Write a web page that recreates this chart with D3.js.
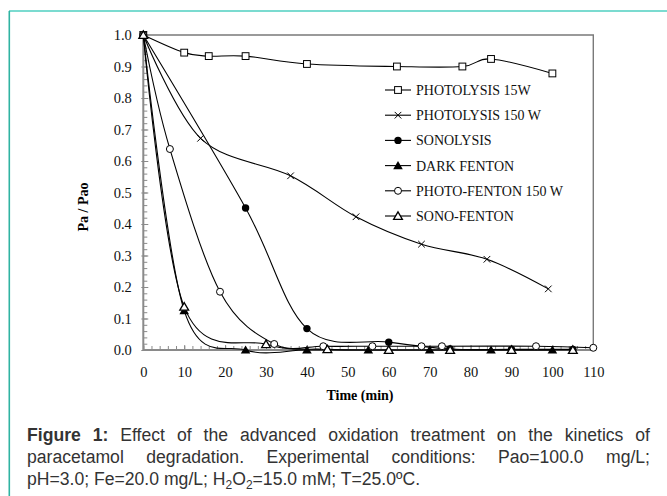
<!DOCTYPE html>
<html><head><meta charset="utf-8">
<script src="https://cdn.jsdelivr.net/npm/d3@7/dist/d3.min.js"></script>
<style>
html,body{margin:0;padding:0;background:#fff;}
#wrap{position:relative;width:667px;height:496px;overflow:hidden;}
svg{position:absolute;left:0;top:0;}
.cap{position:absolute;left:27px;width:623px;font-family:"Liberation Sans",Arial,sans-serif;font-size:17.6px;color:#333;line-height:22px;white-space:nowrap;}
.just{text-align:justify;text-align-last:justify;}
.cap sub{font-size:12px;vertical-align:-4px;line-height:0;}
</style></head>
<body><div id="wrap"><svg id="chart" width="667" height="496"></svg>
<div class="cap just" style="top:424px;"><b>Figure 1:</b> Effect of the advanced oxidation treatment on the kinetics of</div>
<div class="cap just" style="top:446px;">paracetamol degradation. Experimental conditions: Pao=100.0 mg/L;</div>
<div class="cap" style="top:468px;">pH=3.0; Fe=20.0 mg/L; H<sub>2</sub>O<sub>2</sub>=15.0 mM; T=25.0ºC.</div>
</div>
<script>
// ---- data ----
const seriesNames = ["PHOTOLYSIS 15W","PHOTOLYSIS 150 W","SONOLYSIS","DARK FENTON","PHOTO-FENTON 150 W","SONO-FENTON"];
const photolysis15T = [0,10,16,25,40,62,78,85,100];
const photolysis15V = [1.0,0.944,0.933,0.933,0.908,0.900,0.900,0.924,0.878];
const photolysis150T = [0,14,36,52,68,84,99];
const photolysis150V = [1.0,0.672,0.553,0.423,0.336,0.288,0.194];
const sonolysisT = [0,25,40,60,75,90,105];
const sonolysisV = [1.0,0.451,0.068,0.025,0.003,0.002,0.002];
const darkFentonT = [0,10,25,40,55,70,85,100];
const darkFentonV = [1.0,0.125,0,0,0,0,0,0];
const photoFentonT = [0,6.5,18.75,32,44,56,68,73,96,110];
const photoFentonV = [1.0,0.638,0.185,0.019,0.012,0.012,0.012,0.012,0.012,0.007];
const sonoFentonT = [0,10,30,45,60,75,90,105];
const sonoFentonV = [1.0,0.137,0.018,0.002,0,0,0,0];
const xTicks = [0,10,20,30,40,50,60,70,80,90,100,110];
const yTicks = [0,0.1,0.2,0.3,0.4,0.5,0.6,0.7,0.8,0.9,1.0];
const markerTypes = ["square","cross","dot","tri","circle","otri"];

const seriesT = [photolysis15T,photolysis150T,sonolysisT,darkFentonT,photoFentonT,sonoFentonT];
const seriesV = [photolysis15V,photolysis150V,sonolysisV,darkFentonV,photoFentonV,sonoFentonV];

const svg = d3.select("#chart");
const serif = '"Liberation Serif","Times New Roman",serif';
const L=143.3, R=593.3, T=35, B=350;
const x = d3.scaleLinear().domain([0,110]).range([L,R]);
const y = d3.scaleLinear().domain([0,1]).range([B,T]);

// frame
svg.append("line").attr("x1",9).attr("x2",667).attr("y1",11).attr("y2",11).attr("stroke","#4fcfc0").attr("stroke-width",1.6);
svg.append("line").attr("x1",9.3).attr("x2",9.3).attr("y1",11).attr("y2",496).attr("stroke","#2fb3a2").attr("stroke-width",1.6);

// plot box top/right
svg.append("path").attr("d",`M${L},${T}H${R}V${B}`).attr("fill","none").attr("stroke","#7a7a7a").attr("stroke-width",1.4);

const grey="#8a8a8a";
function styleAxis(g){ g.select(".domain").remove(); g.selectAll(".tick line").attr("stroke",grey).attr("stroke-width",1); }

// minor ticks
svg.append("g").attr("transform",`translate(0,${B})`)
  .call(d3.axisBottom(x).tickValues(d3.range(0,111,2)).tickSizeInner(-4).tickSizeOuter(0).tickFormat(""))
  .call(styleAxis);
svg.append("g").attr("transform",`translate(${L},0)`)
  .call(d3.axisLeft(y).tickValues(d3.range(0,1.001,0.02)).tickSizeInner(-4).tickSizeOuter(0).tickFormat(""))
  .call(styleAxis);
// major ticks + labels
const xa = svg.append("g").attr("transform",`translate(0,${B})`)
  .call(d3.axisBottom(x).tickValues(xTicks).tickSizeInner(-5).tickSizeOuter(0).tickPadding(17).tickFormat(d3.format("d")))
  .call(styleAxis);
const ya = svg.append("g").attr("transform",`translate(${L},0)`)
  .call(d3.axisLeft(y).tickValues(yTicks).tickSizeInner(-5).tickSizeOuter(0).tickPadding(11.5).tickFormat(d3.format(".1f")))
  .call(styleAxis);
svg.append("g").attr("transform",`translate(${L},0)`)
  .call(d3.axisLeft(y).tickValues(yTicks).tickSizeInner(2).tickSizeOuter(0).tickFormat(""))
  .call(styleAxis);
[xa,ya].forEach(g=>g.selectAll("text").attr("font-family",serif).attr("font-size",14.5).attr("fill","#111"));

// axis lines
svg.append("path").attr("d",`M${L},${T}V${B}H${R}`).attr("fill","none").attr("stroke",grey).attr("stroke-width",2);

// titles
svg.append("text").attr("x",360).attr("y",400).attr("text-anchor","middle").attr("font-family",serif)
  .attr("font-size",14).attr("font-weight","bold").text("Time (min)");
svg.append("text").attr("transform","translate(88,207) rotate(-90)").attr("text-anchor","middle").attr("font-family",serif)
  .attr("font-size",14).attr("font-weight","bold").text("Pa / Pao");

// lines
const line = d3.line().curve(d3.curveCardinal.tension(0)).x(d=>x(d[0])).y(d=>y(d[1]));
const plot = svg.append("g");
seriesT.forEach((ts,i)=>{
  const pts = ts.map((t,j)=>[t,seriesV[i][j]]);
  plot.append("path").attr("d",line(pts)).attr("fill","none").attr("stroke","#000").attr("stroke-width",1.1);
});

function marker(g,type,cx,cy){
  switch(type){
    case "square": g.append("rect").attr("x",cx-3.4).attr("y",cy-3.4).attr("width",6.8).attr("height",6.8).attr("fill","#fff").attr("stroke","#000").attr("stroke-width",1); break;
    case "cross": g.append("path").attr("d",`M${cx-3.3},${cy-3.3}L${cx+3.3},${cy+3.3}M${cx-3.3},${cy+3.3}L${cx+3.3},${cy-3.3}`).attr("stroke","#000").attr("stroke-width",1); break;
    case "dot": g.append("circle").attr("cx",cx).attr("cy",cy).attr("r",3.7).attr("fill","#000"); break;
    case "circle": g.append("circle").attr("cx",cx).attr("cy",cy).attr("r",3.5).attr("fill","#fff").attr("stroke","#000").attr("stroke-width",1); break;
    case "tri": g.append("path").attr("d",`M${cx},${cy-4.6}L${cx+4.8},${cy+3.6}L${cx-4.8},${cy+3.6}Z`).attr("fill","#000"); break;
    case "otri": g.append("path").attr("d",`M${cx},${cy-4.2}L${cx+4.4},${cy+3.3}L${cx-4.4},${cy+3.3}Z`).attr("fill","#fff").attr("stroke","#000").attr("stroke-width",1.3); break;
  }
}
seriesT.forEach((ts,i)=>{
  const g = plot.append("g");
  ts.forEach((t,j)=>marker(g,markerTypes[i],x(t),y(seriesV[i][j])));
});

// legend
const lg = svg.append("g");
seriesNames.forEach((name,i)=>{
  const cy = 90 + i*25.2;
  lg.append("line").attr("x1",385).attr("x2",411).attr("y1",cy).attr("y2",cy).attr("stroke","#000").attr("stroke-width",1.1);
  marker(lg,markerTypes[i],398,cy);
  lg.append("text").attr("x",416).attr("y",cy+5).attr("font-family",serif).attr("font-size",14).attr("fill","#111").text(name);
});
</script>
</body></html>
